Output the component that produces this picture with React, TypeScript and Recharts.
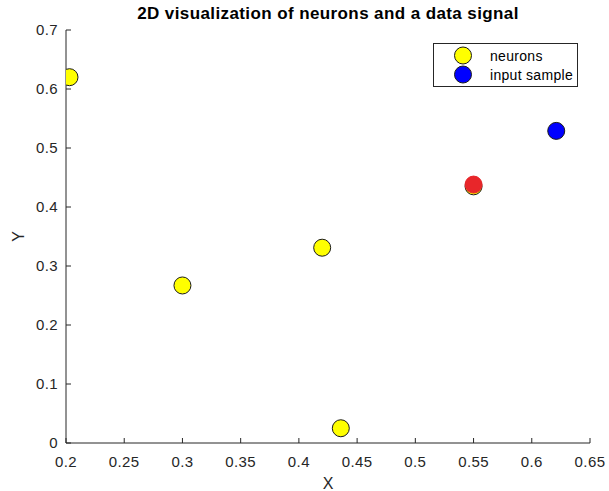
import React from 'react';
import { ScatterChart, Scatter, XAxis, YAxis, Legend } from 'recharts';

// Axis ticks
const xTicks = [0.2, 0.25, 0.3, 0.35, 0.4, 0.45, 0.5, 0.55, 0.6, 0.65];
const yTicks = [0, 0.1, 0.2, 0.3, 0.4, 0.5, 0.6, 0.7];

// Neuron positions
const neuronX = [0.203, 0.3, 0.42, 0.436, 0.55];
const neuronY = [0.62, 0.267, 0.331, 0.025, 0.435];

// Best matching neuron (highlighted)
const winnerX = [0.55];
const winnerY = [0.438];

// Input sample
const sampleX = [0.621];
const sampleY = [0.529];

// Legend entries, in display order
const legendOrder = ['neurons', 'input sample'];

const zip = (xs: number[], ys: number[]) => xs.map((x, i) => ({ x, y: ys[i] }));
const neurons = zip(neuronX, neuronY);
const winner = zip(winnerX, winnerY);
const sample = zip(sampleX, sampleY);

const AXIS = '#262626';
const FONT = '"Liberation Sans", Arial, Helvetica, sans-serif';
const TICK_FONT = 15;
const TICK_LEN = 5;
const R = 8.5;

const BottomTick = (p: any) => (
  <g>
    <line x1={p.x} x2={p.x} y1={p.y} y2={p.y - TICK_LEN} stroke={AXIS} strokeWidth={1} />
    <text x={p.x} y={p.y + 24} textAnchor="middle" fill={AXIS} fontSize={TICK_FONT} fontFamily={FONT} letterSpacing={0.4}>
      {String(p.payload.value)}
    </text>
  </g>
);

const LeftTick = (p: any) => (
  <g>
    <line x1={p.x} x2={p.x + TICK_LEN} y1={p.y} y2={p.y} stroke={AXIS} strokeWidth={1} />
    <text x={p.x - 8} y={p.y + 5} textAnchor="end" fill={AXIS} fontSize={TICK_FONT} fontFamily={FONT} letterSpacing={0.4}>
      {String(p.payload.value)}
    </text>
  </g>
);

const TopTick = (p: any) => (
  <line x1={p.x} x2={p.x} y1={p.y} y2={p.y + TICK_LEN} stroke={AXIS} strokeWidth={1} />
);

const RightTick = (p: any) => (
  <line x1={p.x} x2={p.x - TICK_LEN} y1={p.y} y2={p.y} stroke={AXIS} strokeWidth={1} />
);

const dot = (fill: string, stroke: string) => (p: any) => (
  <circle cx={p.cx} cy={p.cy} r={R} fill={fill} stroke={stroke} strokeWidth={1} />
);

const YLabel = (p: any) => {
  const vb = p.viewBox;
  const cx = vb.x + 18;
  const cy = vb.y + vb.height / 2;
  return (
    <text x={cx} y={cy} transform={`rotate(-90 ${cx} ${cy})`} textAnchor="middle" dominantBaseline="central" fill={AXIS} fontSize={16} fontFamily={FONT}>
      Y
    </text>
  );
};

const LegendBox = (props: any) => {
  const items = (props.payload || [])
    .filter((e: any) => legendOrder.includes(e.value))
    .sort((a: any, b: any) => legendOrder.indexOf(a.value) - legendOrder.indexOf(b.value));
  return (
    <div style={{ border: `1px solid ${AXIS}`, background: '#fff', width: 145, padding: '2px 0', boxSizing: 'border-box' }}>
      {items.map((e: any) => (
        <div key={e.value} style={{ display: 'flex', alignItems: 'center', height: 19 }}>
          <svg width={54} height={19} style={{ flex: 'none' }}>
            <circle cx={29} cy={9.5} r={R} fill={e.color} stroke="#1a1a1a" strokeWidth={1} />
          </svg>
          <span style={{ fontFamily: FONT, fontSize: 14, letterSpacing: 0.3, color: '#000', marginLeft: 2 }}>{e.value}</span>
        </div>
      ))}
    </div>
  );
};

export default function App() {
  return (
    <div style={{ position: 'absolute', left: 0, top: 0, width: 609, height: 491, background: '#fff' }}>
      <div
        style={{
          position: 'absolute', left: 66, width: 524, top: 4, textAlign: 'center',
          fontFamily: FONT, fontWeight: 'bold', fontSize: 17, letterSpacing: 0.4, color: '#000', lineHeight: '20px',
        }}
      >
        2D visualization of neurons and a data signal
      </div>
      <ScatterChart width={609} height={491} margin={{ top: 30, right: 19, bottom: 0, left: 0 }}>
        <XAxis
          xAxisId={0}
          type="number"
          dataKey="x"
          domain={[0.2, 0.65]}
          ticks={xTicks}
          allowDataOverflow
          height={48}
          tickSize={0}
          tickMargin={0}
          tickLine={false}
          tick={BottomTick}
          axisLine={{ stroke: AXIS, strokeWidth: 1 }}
          label={{ value: 'X', position: 'insideBottom', offset: 2, fill: AXIS, fontSize: 16, fontFamily: FONT }}
        />
        <XAxis
          xAxisId="top"
          orientation="top"
          type="number"
          domain={[0.2, 0.65]}
          ticks={xTicks}
          allowDataOverflow
          height={0}
          tickSize={0}
          tickMargin={0}
          tickLine={false}
          tick={TopTick}
          axisLine={{ stroke: AXIS, strokeWidth: 1 }}
        />
        <YAxis
          yAxisId={0}
          type="number"
          dataKey="y"
          domain={[0, 0.7]}
          ticks={yTicks}
          allowDataOverflow
          width={66}
          tickSize={0}
          tickMargin={0}
          tickLine={false}
          tick={LeftTick}
          axisLine={{ stroke: AXIS, strokeWidth: 1 }}
          label={{ content: YLabel }}
        />
        <YAxis
          yAxisId="right"
          orientation="right"
          type="number"
          domain={[0, 0.7]}
          ticks={yTicks}
          allowDataOverflow
          width={0}
          tickSize={0}
          tickMargin={0}
          tickLine={false}
          tick={RightTick}
          axisLine={{ stroke: AXIS, strokeWidth: 1 }}
        />
        <Legend
          layout="vertical"
          align="center"
          verticalAlign="middle"
          wrapperStyle={{ left: 433, top: 43, width: 145 }}
          content={LegendBox}
        />
        <Scatter name="neurons" data={neurons} fill="#ffff00" shape={dot('#ffff00', '#1a1a1a')} isAnimationActive={false} />
        <Scatter name="winner" data={winner} fill="#e8262a" legendType="none" shape={dot('#e8262a', '#e8262a')} isAnimationActive={false} />
        <Scatter name="input sample" data={sample} fill="#0000ff" shape={dot('#0000ff', '#1a1a1a')} isAnimationActive={false} />
      </ScatterChart>
    </div>
  );
}
